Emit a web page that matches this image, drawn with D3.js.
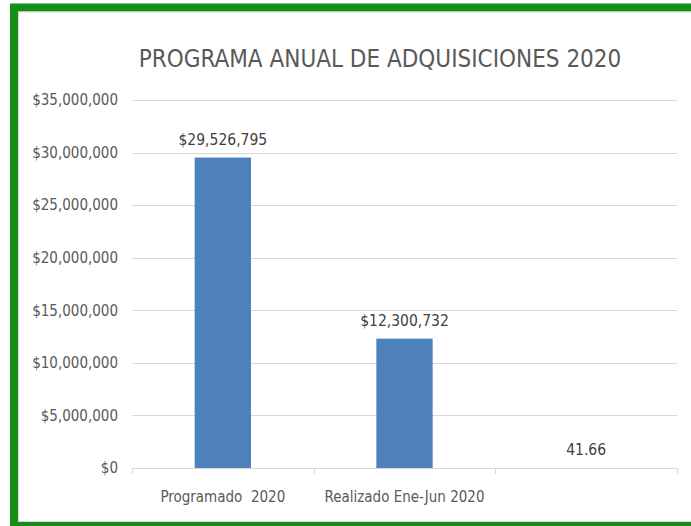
<!DOCTYPE html>
<html>
<head>
<meta charset="utf-8">
<script src="https://cdn.jsdelivr.net/npm/d3@7"></script>
<style>
  body { margin: 0; background: #fff; }
  text { font-family: "Liberation Sans Narrow", "DejaVu Sans Condensed", sans-serif; }
</style>
</head>
<body>
<div id="chart"></div>
<script>
// données du graphique
var categorias = ["Programado  2020", "Realizado Ene-Jun 2020", ""];
var valores = [29526795, 12300732, 41.66];
var etiquetas = ["$29,526,795", "$12,300,732", "41.66"];
var yTicks = [0, 5000000, 10000000, 15000000, 20000000, 25000000, 30000000, 35000000];
var titulo = "PROGRAMA ANUAL DE ADQUISICIONES 2020";

var width = 691, height = 526;
var svg = d3.select("#chart").append("svg")
  .attr("width", width)
  .attr("height", height);

// cadre vert
svg.append("rect")
  .attr("x", 14).attr("y", 7.5)
  .attr("width", 700).attr("height", 518.5)
  .attr("fill", "#fff")
  .attr("stroke", "#138f17")
  .attr("stroke-width", 8);
svg.append("rect")
  .attr("x", 18.5).attr("y", 12)
  .attr("width", 700).attr("height", 509.5)
  .attr("fill", "none")
  .attr("stroke", "#d9d9d9")
  .attr("stroke-width", 1);

var x = d3.scaleBand().domain(categorias).range([132, 677])
  .paddingInner(0.69).paddingOuter(0.345);
var y = d3.scaleLinear().domain([0, 35000000]).range([468, 100]);

// grille horizontale
svg.selectAll("line.grid").data(yTicks).enter()
  .append("line")
  .attr("class", "grid")
  .attr("x1", 132).attr("x2", 677)
  .attr("y1", function(d){ return Math.round(y(d)) + 0.5; })
  .attr("y2", function(d){ return Math.round(y(d)) + 0.5; })
  .attr("stroke", "#d9d9d9");

// axe Y
var fmt = d3.format("$,");
svg.selectAll("text.ytick").data(yTicks).enter()
  .append("text")
  .attr("class", "ytick")
  .attr("x", 118)
  .attr("y", function(d){ return y(d); })
  .attr("dy", "0.35em")
  .attr("text-anchor", "end")
  .attr("font-size", 15)
  .attr("fill", "#595959")
  .text(function(d){ return fmt(d); });

// barres
svg.selectAll("rect.bar").data(valores).enter()
  .append("rect")
  .attr("class", "bar")
  .attr("x", function(d, i){ return x(categorias[i]); })
  .attr("y", function(d){ return y(d); })
  .attr("width", x.bandwidth())
  .attr("height", function(d){ return y(0) - y(d); })
  .attr("fill", "#4f81bd");

// étiquettes des valeurs
svg.selectAll("text.lbl").data(valores).enter()
  .append("text")
  .attr("class", "lbl")
  .attr("x", function(d, i){ return x(categorias[i]) + x.bandwidth() / 2; })
  .attr("y", function(d){ return y(d) - 13; })
  .attr("text-anchor", "middle")
  .attr("font-size", 15.5)
  .attr("fill", "#404040")
  .text(function(d, i){ return etiquetas[i]; });

// ticks de l'axe X
var step = x.step();
svg.selectAll("line.xtick").data(d3.range(categorias.length + 1)).enter()
  .append("line")
  .attr("class", "xtick")
  .attr("x1", function(i){ return Math.round(132 + i * step) + 0.5; })
  .attr("x2", function(i){ return Math.round(132 + i * step) + 0.5; })
  .attr("y1", 468).attr("y2", 474)
  .attr("stroke", "#d9d9d9");

svg.selectAll("text.xlbl").data(categorias).enter()
  .append("text")
  .attr("class", "xlbl")
  .attr("x", function(d){ return x(d) + x.bandwidth() / 2; })
  .attr("y", 502)
  .attr("text-anchor", "middle")
  .attr("font-size", 15)
  .attr("fill", "#595959")
  .text(function(d){ return d; })
  .style("white-space", "pre");

// titre
svg.append("text")
  .attr("x", 380).attr("y", 67)
  .attr("text-anchor", "middle")
  .attr("font-size", 24)
  .attr("fill", "#595959")
  .text(titulo);
</script>
</body>
</html>
